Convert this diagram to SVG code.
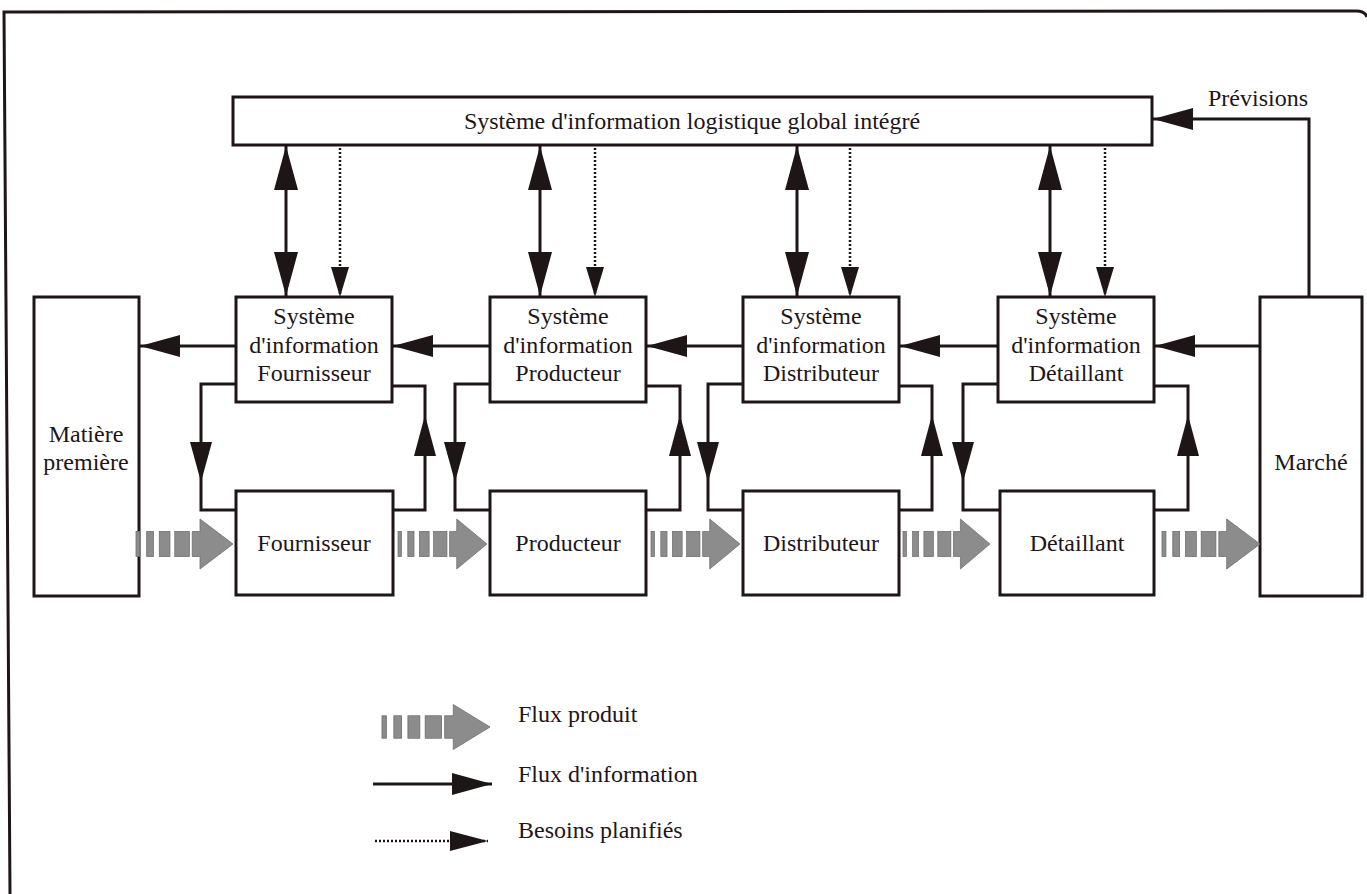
<svg xmlns="http://www.w3.org/2000/svg" width="1367" height="894" viewBox="0 0 1367 894">
<style>
  .box { fill: #fff; stroke: #1e1517; stroke-width: 3; }
  .ln { fill: none; stroke: #1e1517; stroke-width: 3; }
  .dot { fill: none; stroke: #1e1517; stroke-width: 2.5; stroke-dasharray: 2 2; }
  .hd { fill: #1e1517; }
  .t { font-family: "Liberation Serif", "Times New Roman", serif; font-size: 24px; fill: #1e1517; text-anchor: middle; }
  .tl { font-family: "Liberation Serif", "Times New Roman", serif; font-size: 24px; fill: #1e1517; text-anchor: start; }
  .gray { fill: #8c8c8c; stroke: #6e6e6e; stroke-width: 0.8; }
</style>
<defs>
  <marker id="ah" markerUnits="userSpaceOnUse" markerWidth="42" markerHeight="24" refX="40" refY="11" orient="auto-start-reverse" viewBox="0 0 42 24">
    <polygon points="0,0 40,11 0,22" class="hd"/>
  </marker>
  <marker id="ahv" markerUnits="userSpaceOnUse" markerWidth="46" markerHeight="26" refX="44" refY="12" orient="auto-start-reverse" viewBox="0 0 46 26">
    <polygon points="0,0 44,12 0,24" class="hd"/>
  </marker>
  <marker id="ahd" markerUnits="userSpaceOnUse" markerWidth="32" markerHeight="20" refX="30" refY="9" orient="auto" viewBox="0 0 32 20">
    <polygon points="0,0 30,9 0,18" class="hd"/>
  </marker>
  <marker id="ahl" markerUnits="userSpaceOnUse" markerWidth="40" markerHeight="22" refX="38" refY="10" orient="auto" viewBox="0 0 40 22">
    <polygon points="0,0 38,10 0,20" class="hd"/>
  </marker>
  <g id="flux">
    <rect x="0" y="-12.5" width="4" height="25" class="gray"/>
    <rect x="11" y="-12.5" width="7" height="25" class="gray"/>
    <rect x="24" y="-12.5" width="11" height="25" class="gray"/>
    <rect x="40" y="-12.5" width="15" height="25" class="gray"/>
    <path d="M58,-12.5 H66 V-25 L100,0 L66,25 V12.5 H58 Z" class="gray"/>
  </g>
</defs>

<!-- frame -->
<path d="M10,894 L4,12 L1356,11 Q1365,11 1367,17" class="ln" stroke-width="2"/>

<!-- nodes -->
<g id="si-global">
  <rect x="233" y="97" width="919" height="48" class="box"/>
  <text x="692" y="129" class="t">Système d'information logistique global intégré</text>
</g>
<g id="matiere">
  <rect x="34" y="297" width="105" height="299" class="box"/>
  <text x="86" y="442" class="t">Matière</text>
  <text x="86" y="470" class="t">première</text>
</g>
<g id="marche">
  <rect x="1260" y="297" width="102" height="299" class="box"/>
  <text x="1311" y="470" class="t">Marché</text>
</g>
<g id="si-fournisseur">
  <rect x="236" y="297" width="156" height="105" class="box"/>
  <text x="314" y="324" class="t">Système</text>
  <text x="314" y="353" class="t">d'information</text>
  <text x="314" y="381" class="t">Fournisseur</text>
</g>
<g id="si-producteur">
  <rect x="490" y="297" width="156" height="105" class="box"/>
  <text x="568" y="324" class="t">Système</text>
  <text x="568" y="353" class="t">d'information</text>
  <text x="568" y="381" class="t">Producteur</text>
</g>
<g id="si-distributeur">
  <rect x="743" y="297" width="156" height="105" class="box"/>
  <text x="821" y="324" class="t">Système</text>
  <text x="821" y="353" class="t">d'information</text>
  <text x="821" y="381" class="t">Distributeur</text>
</g>
<g id="si-detaillant">
  <rect x="998" y="297" width="156" height="105" class="box"/>
  <text x="1076" y="324" class="t">Système</text>
  <text x="1076" y="353" class="t">d'information</text>
  <text x="1076" y="381" class="t">Détaillant</text>
</g>
<g id="fournisseur">
  <rect x="236" y="491" width="157" height="104" class="box"/>
  <text x="314" y="551" class="t">Fournisseur</text>
</g>
<g id="producteur">
  <rect x="490" y="491" width="156" height="104" class="box"/>
  <text x="568" y="551" class="t">Producteur</text>
</g>
<g id="distributeur">
  <rect x="743" y="491" width="156" height="104" class="box"/>
  <text x="821" y="551" class="t">Distributeur</text>
</g>
<g id="detaillant">
  <rect x="1000" y="491" width="154" height="104" class="box"/>
  <text x="1077" y="551" class="t">Détaillant</text>
</g>

<!-- connectors -->
<g id="connectors">
  <!-- double info arrows -->
  <line x1="286" y1="146" x2="286" y2="296" class="ln" marker-start="url(#ahv)" marker-end="url(#ahv)"/>
  <line x1="540" y1="146" x2="540" y2="296" class="ln" marker-start="url(#ahv)" marker-end="url(#ahv)"/>
  <line x1="797" y1="146" x2="797" y2="296" class="ln" marker-start="url(#ahv)" marker-end="url(#ahv)"/>
  <line x1="1050" y1="146" x2="1050" y2="296" class="ln" marker-start="url(#ahv)" marker-end="url(#ahv)"/>
  <!-- planned needs -->
  <line x1="340" y1="148" x2="340" y2="297" class="dot" marker-end="url(#ahd)"/>
  <line x1="595" y1="148" x2="595" y2="297" class="dot" marker-end="url(#ahd)"/>
  <line x1="850" y1="148" x2="850" y2="297" class="dot" marker-end="url(#ahd)"/>
  <line x1="1105" y1="148" x2="1105" y2="297" class="dot" marker-end="url(#ahd)"/>
  <!-- horizontal info arrows -->
  <line x1="236" y1="346" x2="140" y2="346" class="ln" marker-end="url(#ah)"/>
  <line x1="490" y1="346" x2="393" y2="346" class="ln" marker-end="url(#ah)"/>
  <line x1="743" y1="346" x2="647" y2="346" class="ln" marker-end="url(#ah)"/>
  <line x1="998" y1="346" x2="900" y2="346" class="ln" marker-end="url(#ah)"/>
  <line x1="1260" y1="346" x2="1155" y2="346" class="ln" marker-end="url(#ah)"/>
  <!-- previsions -->
  <polyline points="1309,297 1309,119 1153,119" class="ln" marker-end="url(#ah)"/>
  <!-- loops -->
  <polyline points="236,384 201,384 201,510 236,510" class="ln"/>
  <polygon points="190,442 212,442 201,482" class="hd"/>
  <polyline points="393,510 425,510 425,386 392,386" class="ln"/>
  <polygon points="414,456 436,456 425,415" class="hd"/>

  <polyline points="490,384 455,384 455,510 490,510" class="ln"/>
  <polygon points="444,442 466,442 455,482" class="hd"/>
  <polyline points="646,510 680,510 680,386 646,386" class="ln"/>
  <polygon points="669,456 691,456 680,415" class="hd"/>

  <polyline points="743,384 708,384 708,510 743,510" class="ln"/>
  <polygon points="697,442 719,442 708,482" class="hd"/>
  <polyline points="899,510 932,510 932,386 899,386" class="ln"/>
  <polygon points="921,456 943,456 932,415" class="hd"/>

  <polyline points="998,384 963,384 963,510 1000,510" class="ln"/>
  <polygon points="952,442 974,442 963,482" class="hd"/>
  <polyline points="1154,510 1188,510 1188,386 1154,386" class="ln"/>
  <polygon points="1177,456 1199,456 1188,415" class="hd"/>

  <!-- product flow -->
  <use href="#flux" transform="translate(136,544) scale(0.97,1)"/>
  <use href="#flux" transform="translate(398,544) scale(0.89,1)"/>
  <use href="#flux" transform="translate(651,544) scale(0.89,1)"/>
  <use href="#flux" transform="translate(903,544) scale(0.87,1)"/>
  <use href="#flux" transform="translate(1162,544) scale(0.98,1)"/>
</g>

<!-- legend -->
<g id="legend">
  <use href="#flux" transform="translate(382,727) scale(1.08,0.9)"/>
  <text x="518" y="722" class="tl">Flux produit</text>
  <line x1="373" y1="784" x2="492" y2="784" class="ln" marker-end="url(#ah)"/>
  <text x="518" y="782" class="tl">Flux d'information</text>
  <line x1="375" y1="841" x2="488" y2="841" class="dot" stroke-width="2" marker-end="url(#ahl)"/>
  <text x="518" y="838" class="tl">Besoins planifiés</text>
</g>

<text x="1208" y="106" class="tl">Prévisions</text>
</svg>
